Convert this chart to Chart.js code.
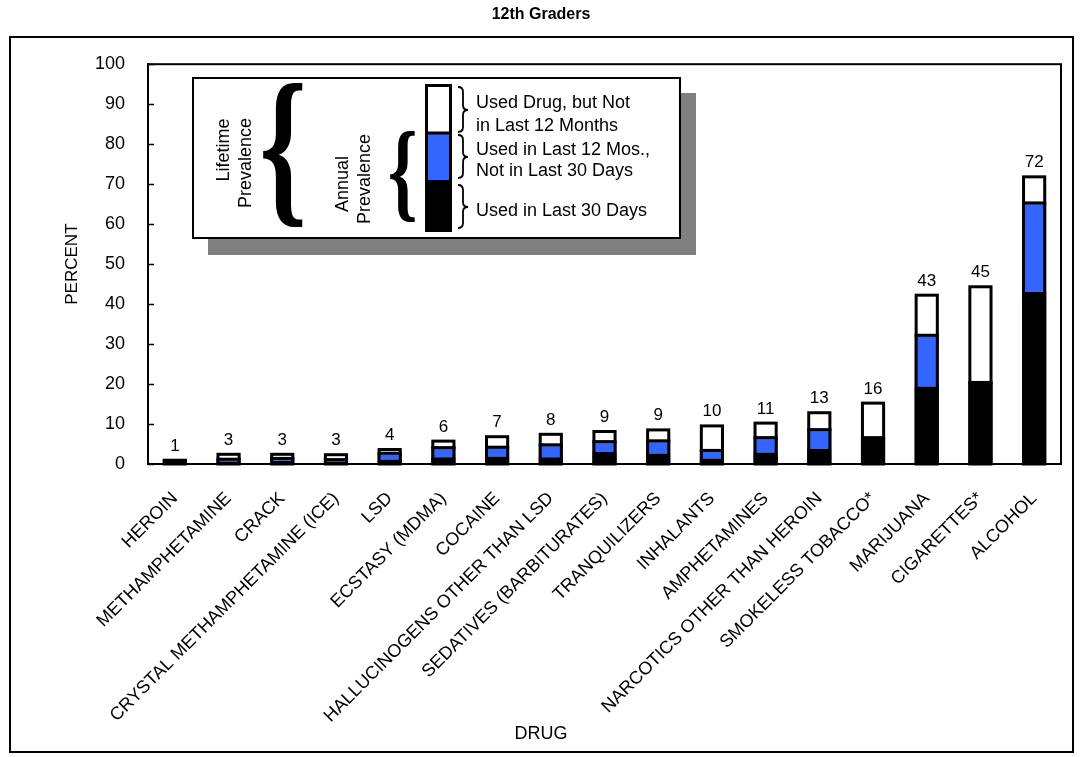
<!DOCTYPE html>
<html lang="en">

<head>
  <meta charset="UTF-8">
  <title>12th Graders</title>
  <script src="https://cdn.jsdelivr.net/npm/chart.js"></script>
  <style>
    html, body { margin: 0; padding: 0; background: #fff; }
  </style>
</head>

<body>
  <canvas id="drugChart" width="1082" height="757"></canvas>

  <script>
    const drugs = [
      "HEROIN", "METHAMPHETAMINE", "CRACK", "CRYSTAL METHAMPHETAMINE (ICE)", "LSD",
      "ECSTASY (MDMA)", "COCAINE", "HALLUCINOGENS OTHER THAN LSD", "SEDATIVES (BARBITURATES)",
      "TRANQUILIZERS", "INHALANTS", "AMPHETAMINES", "NARCOTICS OTHER THAN HEROIN",
      "SMOKELESS TOBACCO*", "MARIJUANA", "CIGARETTES*", "ALCOHOL"
    ];
    // prevalence in percent
    const thirtyDay = [0.6, 0.6, 0.8, 0.6, 1.1, 1.7, 1.9, 1.7, 3.0, 2.6, 1.4, 2.9, 3.8, 6.6, 19.4, 20.4, 43.1];
    const annual = [0.9, 1.2, 1.4, 1.1, 2.7, 4.1, 4.2, 4.8, 5.6, 5.8, 3.4, 6.6, 8.6, null, 32.2, null, 65.3];
    const lifetime = [1.3, 2.8, 2.8, 2.7, 4.0, 6.1, 7.2, 7.8, 8.5, 8.9, 9.9, 10.6, 13.2, 15.6, 42.6, 44.7, 72.2];
    const lifetimeLabels = [1, 3, 3, 3, 4, 6, 7, 8, 9, 9, 10, 11, 13, 16, 43, 45, 72];
    const yTicks = [0, 10, 20, 30, 40, 50, 60, 70, 80, 90, 100];

    const FONT = "'Liberation Sans', Arial, sans-serif";
    const BLUE = "#3366ff";

    // stacked segments built from the three prevalence lists
    const blackPart = thirtyDay;
    const bluePart = annual.map((a, i) => a == null ? null : a - thirtyDay[i]);
    const whitePart = lifetime.map((l, i) => l - (annual[i] == null ? thirtyDay[i] : annual[i]));

    // stretch a glyph so its ink box fills the given rectangle
    function fitGlyph(ctx, ch, font, x1, y1, x2, y2) {
      ctx.save();
      ctx.font = font;
      ctx.textAlign = "left";
      ctx.textBaseline = "alphabetic";
      const m = ctx.measureText(ch);
      const gw = m.actualBoundingBoxLeft + m.actualBoundingBoxRight;
      const gh = m.actualBoundingBoxAscent + m.actualBoundingBoxDescent;
      ctx.translate(x1, y1);
      ctx.scale((x2 - x1) / gw, (y2 - y1) / gh);
      ctx.fillStyle = "#000";
      ctx.fillText(ch, m.actualBoundingBoxLeft, m.actualBoundingBoxAscent);
      ctx.restore();
    }

    function thinBrace(ctx, xTip, xEnd, y1, yTip, y2) {
      const xMid = (xTip + xEnd) / 2;
      const r = Math.abs(xEnd - xMid);
      ctx.save();
      ctx.strokeStyle = "#000";
      ctx.lineWidth = 1.8;
      ctx.beginPath();
      ctx.moveTo(xEnd, y1);
      ctx.quadraticCurveTo(xMid, y1, xMid, y1 + r);
      ctx.lineTo(xMid, yTip - r);
      ctx.quadraticCurveTo(xMid, yTip, xTip, yTip);
      ctx.quadraticCurveTo(xMid, yTip, xMid, yTip + r);
      ctx.lineTo(xMid, y2 - r);
      ctx.quadraticCurveTo(xMid, y2, xEnd, y2);
      ctx.stroke();
      ctx.restore();
    }

    function rotatedText(ctx, text, x, y) {
      ctx.save();
      ctx.translate(x, y);
      ctx.rotate(-Math.PI / 2);
      ctx.textAlign = "center";
      ctx.textBaseline = "middle";
      ctx.fillText(text, 0, 0);
      ctx.restore();
    }

    const decorations = {
      id: "decorations",
      beforeDraw(chart) {
        const ctx = chart.ctx;
        ctx.save();
        ctx.fillStyle = "#fff";
        ctx.fillRect(0, 0, chart.width, chart.height);
        ctx.strokeStyle = "#000";
        ctx.lineWidth = 2;
        ctx.strokeRect(10, 37, 1063, 715);
        ctx.restore();
      },
      afterDatasetsDraw(chart) {
        const ctx = chart.ctx;
        const area = chart.chartArea;
        const x = chart.scales.x;
        const y = chart.scales.y;
        const bars = chart.getDatasetMeta(0).data;
        ctx.save();
        // outline of each stack and the line on top of the annual part
        ctx.strokeStyle = "#000";
        ctx.fillStyle = "#000";
        ctx.lineWidth = 3;
        bars.forEach((bar, i) => {
          const left = bar.x - bar.width / 2;
          const yTop = y.getPixelForValue(lifetime[i]);
          const yBase = y.getPixelForValue(0);
          ctx.strokeRect(left + 1.5, yTop + 1.5, bar.width - 3, yBase - yTop - 1.5);
          const split = annual[i] == null ? thirtyDay[i] : annual[i];
          const ys = y.getPixelForValue(split);
          ctx.fillRect(left, ys - 1.5, bar.width, 3);
        });
        // plot frame
        ctx.lineWidth = 2;
        ctx.strokeRect(area.left, area.top, area.right - area.left, area.bottom - area.top);
        // inward tick marks
        ctx.lineWidth = 1.5;
        yTicks.forEach(v => {
          const py = Math.round(y.getPixelForValue(v)) + 0.5;
          ctx.beginPath();
          ctx.moveTo(area.left, py);
          ctx.lineTo(area.left + 6, py);
          ctx.stroke();
        });
        // lifetime values above bars
        ctx.font = "17px " + FONT;
        ctx.textAlign = "center";
        ctx.textBaseline = "alphabetic";
        lifetimeLabels.forEach((lab, i) => {
          ctx.fillText(String(lab), x.getPixelForValue(i), y.getPixelForValue(lifetime[i]) - 8);
        });
        ctx.restore();
      },
      afterDraw(chart) {
        const ctx = chart.ctx;
        ctx.save();
        // legend box with shadow
        ctx.fillStyle = "#808080";
        ctx.fillRect(208, 93, 488, 162);
        ctx.fillStyle = "#fff";
        ctx.fillRect(193, 78, 487, 160);
        ctx.strokeStyle = "#000";
        ctx.lineWidth = 2;
        ctx.strokeRect(193, 78, 487, 160);

        ctx.fillStyle = "#000";
        ctx.font = "18px " + FONT;
        rotatedText(ctx, "Lifetime", 224, 150);
        rotatedText(ctx, "Prevalence", 246, 163);
        rotatedText(ctx, "Annual", 343, 184);
        rotatedText(ctx, "Prevalence", 365, 179);

        fitGlyph(ctx, "{", "bold 100px 'Liberation Serif'", 263, 84, 303, 228);
        fitGlyph(ctx, "{", "bold 100px 'Liberation Serif'", 390, 132, 415, 223);

        // mini stacked bar
        ctx.fillStyle = "#fff";
        ctx.fillRect(425, 84, 27, 49);
        ctx.fillStyle = BLUE;
        ctx.fillRect(425, 133, 27, 47);
        ctx.fillStyle = "#000";
        ctx.fillRect(425, 180, 27, 52);
        ctx.lineWidth = 3;
        ctx.strokeRect(426.5, 85.5, 24, 145);
        ctx.fillRect(425, 131.5, 27, 3);

        thinBrace(ctx, 468, 458, 87, 110, 132);
        thinBrace(ctx, 468, 458, 135, 157, 178);
        thinBrace(ctx, 468, 458, 185, 207, 228);

        ctx.fillStyle = "#000";
        ctx.font = "18px " + FONT;
        ctx.textAlign = "left";
        ctx.textBaseline = "middle";
        ctx.fillText("Used Drug, but Not", 476, 103);
        ctx.fillText("in Last 12 Months", 476, 126);
        ctx.fillText("Used in Last 12 Mos.,", 476, 150);
        ctx.fillText("Not in Last 30 Days", 476, 171);
        ctx.fillText("Used in Last 30 Days", 476, 211);
        ctx.restore();
      }
    };

    const ctx = document.getElementById("drugChart").getContext("2d");
    new Chart(ctx, {
      type: "bar",
      data: {
        labels: drugs,
        datasets: [
          { label: "Used in Last 30 Days", data: blackPart, backgroundColor: "#000" },
          { label: "Used in Last 12 Mos., Not in Last 30 Days", data: bluePart, backgroundColor: BLUE },
          { label: "Used Drug, but Not in Last 12 Months", data: whitePart, backgroundColor: "#fff" }
        ]
      },
      options: {
        responsive: false,
        animation: false,
        layout: { padding: { left: 21, right: 21, top: 0, bottom: 10 } },
        datasets: {
          bar: {
            borderWidth: 0,
            categoryPercentage: 1,
            barPercentage: 0.45
          }
        },
        scales: {
          x: {
            stacked: true,
            grid: { display: false, drawTicks: false },
            border: { display: true, color: "#000", width: 2 },
            ticks: {
              color: "#000",
              font: { family: FONT, size: 18 },
              minRotation: 45,
              maxRotation: 45,
              autoSkip: false,
              padding: 24
            },
            afterFit(scale) { scale.height = 259.4; }
          },
          y: {
            stacked: true,
            min: 0,
            max: 100,
            grid: { display: false, drawTicks: false },
            border: { display: true, color: "#000", width: 2 },
            ticks: {
              stepSize: 10,
              color: "#000",
              font: { family: FONT, size: 18 },
              padding: 23
            },
            title: {
              display: true,
              text: "PERCENT",
              color: "#000",
              font: { family: FONT, size: 17 },
              padding: { top: 41, bottom: 0 }
            },
            afterFit(scale) { scale.width = 127; }
          }
        },
        plugins: {
          legend: { display: false },
          tooltip: { enabled: false },
          title: {
            display: true,
            text: "12th Graders",
            color: "#000",
            font: { family: FONT, size: 16, weight: "bold" },
            padding: { top: 5, bottom: 40 }
          },
          subtitle: {
            display: true,
            position: "bottom",
            text: "DRUG",
            color: "#000",
            font: { family: FONT, size: 18 },
            padding: { top: 0, bottom: 2 }
          }
        }
      },
      plugins: [decorations]
    });
  </script>
</body>

</html>
